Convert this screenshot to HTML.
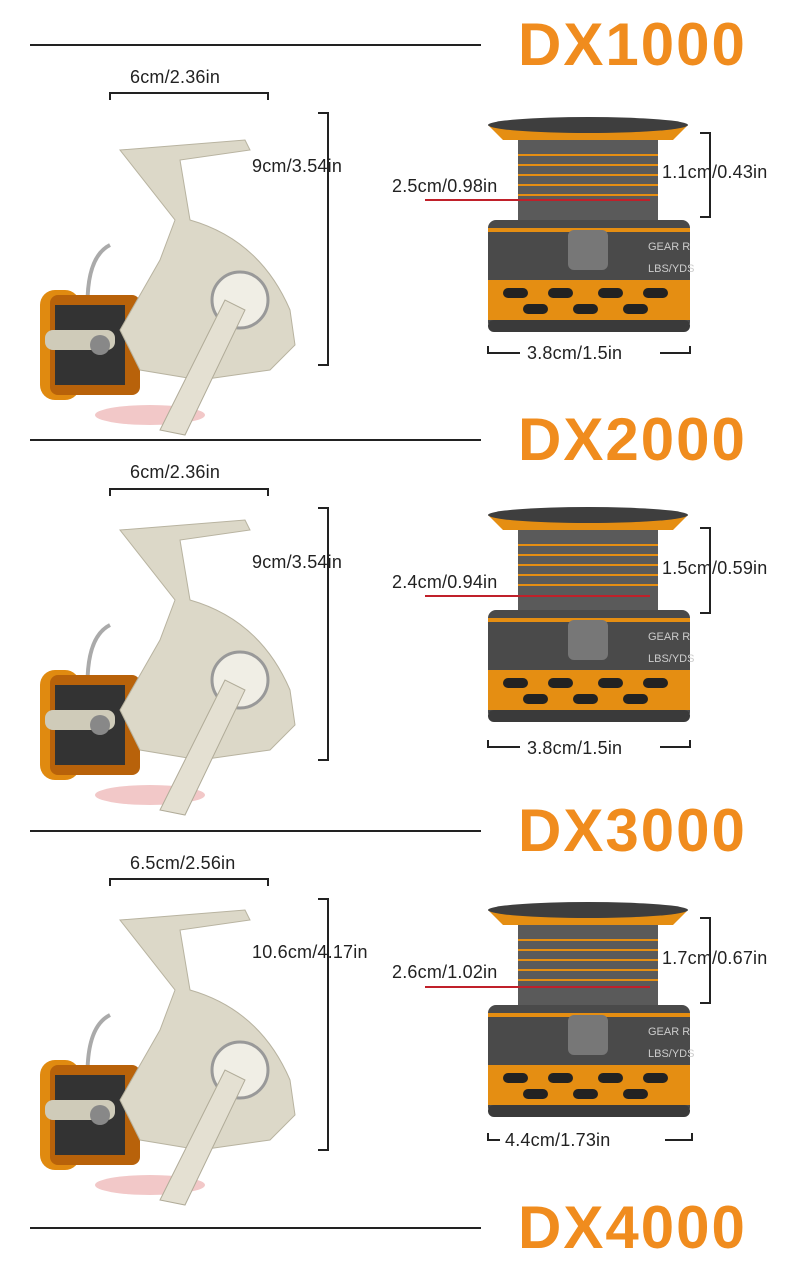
<!DOCTYPE html>
<html><head><meta charset="utf-8"><style>
body{margin:0;width:790px;height:1249px;background:#fff;position:relative;overflow:hidden;font-family:"Liberation Sans","DejaVu Sans",sans-serif}
.a{position:absolute}
.t{position:absolute;font-size:18px;color:#222;white-space:nowrap;letter-spacing:0.2px}
.h{position:absolute;font-size:60px;font-weight:bold;color:#f08c1e;letter-spacing:2px;line-height:60px}
.ln{position:absolute;background:#222}
</style></head><body>

<div class="ln" style="left:30px;top:44px;width:451px;height:2px"></div>
<div class="h" style="left:518px;top:15px">DX1000</div>
<div class="ln" style="left:30px;top:439px;width:451px;height:2px"></div>
<div class="h" style="left:518px;top:410px">DX2000</div>
<div class="ln" style="left:30px;top:830px;width:451px;height:2px"></div>
<div class="h" style="left:518px;top:801px">DX3000</div>
<div class="ln" style="left:30px;top:1227px;width:451px;height:2px"></div>
<div class="h" style="left:518px;top:1198px">DX4000</div>

<svg class="a" style="left:0;top:0" width="790" height="1249">
<defs>
<g id="reel">
 <ellipse cx="150" cy="285" rx="55" ry="10" fill="#f2c8c8"/>
 <path d="M90 210 Q80 130 110 115" stroke="#aaa" stroke-width="4" fill="none"/>
 <rect x="40" y="160" width="40" height="110" rx="15" fill="#e08a10"/>
 <rect x="50" y="165" width="90" height="100" rx="8" fill="#b8620a"/>
 <rect x="55" y="175" width="70" height="80" fill="#333"/>
 <path d="M120 20 L245 10 L250 20 L180 30 L190 90 Q260 110 290 180 L295 215 L270 240 L200 250 L140 240 L120 200 L160 130 L175 90 Z" fill="#dcd8c8" stroke="#b8b3a0"/>
 <circle cx="240" cy="170" r="28" fill="#f0eee5" stroke="#999" stroke-width="3"/>
 <path d="M225 170 L160 300 L185 305 L245 180 Z" fill="#e4e0d2" stroke="#b0ab98"/>
 <rect x="45" y="200" width="70" height="20" rx="8" fill="#cfcbb9"/>
 <circle cx="100" cy="215" r="10" fill="#888"/>
</g>
<g id="spool">
 <path d="M0 5 L200 5 L185 20 L15 20 Z" fill="#e58e12"/>
 <ellipse cx="100" cy="5" rx="100" ry="8" fill="#3e3e3e"/>
 <rect x="30" y="20" width="140" height="80" fill="#5a5a5a"/>
 <g stroke="#e58e12" stroke-width="2"><line x1="30" y1="35" x2="170" y2="35"/><line x1="30" y1="45" x2="170" y2="45"/><line x1="30" y1="55" x2="170" y2="55"/><line x1="30" y1="65" x2="170" y2="65"/><line x1="30" y1="75" x2="170" y2="75"/></g>
 <rect x="0" y="100" width="202" height="110" rx="8" fill="#4a4a4a"/>
 <rect x="0" y="108" width="202" height="4" fill="#e58e12"/>
 <rect x="80" y="110" width="40" height="40" rx="6" fill="#777"/>
 <text x="160" y="130" font-size="11" fill="#ccc" font-family="Liberation Sans">GEAR R</text>
 <text x="160" y="152" font-size="11" fill="#ccc" font-family="Liberation Sans">LBS/YDS</text>
 <rect x="0" y="160" width="202" height="40" fill="#e58e12"/>
 <g fill="#222"><rect x="15" y="168" width="25" height="10" rx="5"/><rect x="60" y="168" width="25" height="10" rx="5"/><rect x="110" y="168" width="25" height="10" rx="5"/><rect x="155" y="168" width="25" height="10" rx="5"/><rect x="35" y="184" width="25" height="10" rx="5"/><rect x="85" y="184" width="25" height="10" rx="5"/><rect x="135" y="184" width="25" height="10" rx="5"/></g>
 <rect x="0" y="200" width="202" height="12" rx="6" fill="#3a3a3a"/>
</g>
</defs>
<g stroke="#222" stroke-width="2" fill="none">
 <path d="M110 100 V93 H268 V100"/><path d="M318 113 H328 V365 H318"/><path d="M700 133 H710 V217 H700"/><path d="M488 346 V353 H520 M660 353 H690 V346"/>
 <path d="M110 496 V489 H268 V496"/><path d="M318 508 H328 V760 H318"/><path d="M700 528 H710 V613 H700"/><path d="M488 740 V747 H520 M660 747 H690 V740"/>
 <path d="M110 886 V879 H268 V886"/><path d="M318 899 H328 V1150 H318"/><path d="M700 918 H710 V1003 H700"/><path d="M488 1133 V1140 H500 M665 1140 H692 V1133"/>
</g>
<use href="#reel" x="0" y="130"/>
<use href="#reel" x="0" y="510"/>
<use href="#reel" x="0" y="900"/>
<use href="#spool" x="488" y="120"/>
<use href="#spool" x="488" y="510"/>
<use href="#spool" x="488" y="905"/>
<g stroke="#c0202a" stroke-width="2"><line x1="425" y1="200" x2="650" y2="200"/><line x1="425" y1="596" x2="650" y2="596"/><line x1="425" y1="987" x2="650" y2="987"/></g>
</svg>

<div class="t" style="left:130px;top:67px">6cm/2.36in</div>
<div class="t" style="left:252px;top:156px">9cm/3.54in</div>
<div class="t" style="left:392px;top:176px">2.5cm/0.98in</div>
<div class="t" style="left:662px;top:162px">1.1cm/0.43in</div>
<div class="t" style="left:527px;top:343px">3.8cm/1.5in</div>

<div class="t" style="left:130px;top:462px">6cm/2.36in</div>
<div class="t" style="left:252px;top:552px">9cm/3.54in</div>
<div class="t" style="left:392px;top:572px">2.4cm/0.94in</div>
<div class="t" style="left:662px;top:558px">1.5cm/0.59in</div>
<div class="t" style="left:527px;top:738px">3.8cm/1.5in</div>

<div class="t" style="left:130px;top:853px">6.5cm/2.56in</div>
<div class="t" style="left:252px;top:942px">10.6cm/4.17in</div>
<div class="t" style="left:392px;top:962px">2.6cm/1.02in</div>
<div class="t" style="left:662px;top:948px">1.7cm/0.67in</div>
<div class="t" style="left:505px;top:1130px">4.4cm/1.73in</div>
</body></html>
